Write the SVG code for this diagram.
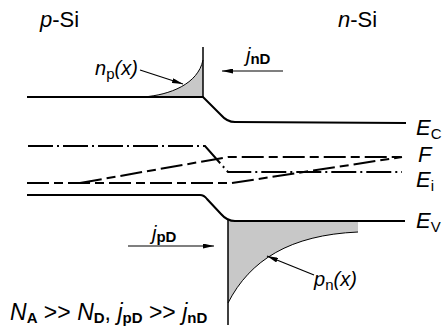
<svg xmlns="http://www.w3.org/2000/svg" width="442" height="336" viewBox="0 0 442 336">
<defs>
<marker id="ah" viewBox="0 0 11 5" refX="11" refY="2.5" markerWidth="11" markerHeight="5" markerUnits="userSpaceOnUse" orient="auto">
<path d="M0,0 L11,2.5 L0,5 Z" fill="#000"/>
</marker>
</defs>
<style>
.band{fill:none;stroke:#000;stroke-width:2}
.ei{fill:none;stroke:#000;stroke-width:2;stroke-dasharray:25 4 2 4}
.fl{fill:none;stroke:#000;stroke-width:2;stroke-dasharray:22 5 9 5}
.fill{fill:#c8c8c8;stroke:none}
.crv{fill:none;stroke:#000;stroke-width:1}
.vl{fill:none;stroke:#000;stroke-width:1.5}
.arr{fill:none;stroke:#000;stroke-width:1.2;marker-end:url(#ah)}
text{font-family:"Liberation Sans",Arial,sans-serif;fill:#000}
.t{font-size:20px}
.big{font-size:22px}
.bt{font-size:23px}
.it{font-style:italic}
.sub{font-size:15px;font-weight:bold;font-style:normal}
.sub2{font-size:15px;font-style:normal}
</style>
<g id="shading">
<path class="fill" d="M143,97 C170,95 198,84 203,60 L203,97 Z"/>
<path class="fill" d="M228,221 L358,221 L358,232 C290,235 250,260 228,303 Z"/>
</g>
<g id="np-curve">
<path class="crv" d="M143,97 C170,95 198,84 203,60"/>
<path class="vl" d="M203,47 L203,97"/>
</g>
<g id="pn-curve">
<path class="crv" d="M358,232 C290,235 250,260 228,303"/>
<path class="vl" d="M228,219 L228,325"/>
</g>
<g id="Ec">
<path class="band" d="M27,97 L203,97 L221,115 Q227,122 235,122 L406,123"/>
</g>
<g id="Ev">
<path class="band" d="M27,195 L200,195 Q204,195 207,199 L221,214 Q227,221 235,221 L405,221"/>
</g>
<g id="Ei">
<path class="ei" d="M28,146 L205,146 L228,172 L402,172"/>
</g>
<g id="Fp">
<path class="fl" d="M27,183 L232,183 L402,157"/>
</g>
<g id="Fn">
<path class="fl" d="M80,183 L228,157 L402,157"/>
</g>
<g id="connectors">
<path class="arr" d="M140,70 L183,84"/>
<path class="arr" d="M283,71 L222,71"/>
<path class="arr" d="M128,246 L214,246"/>
<path class="arr" d="M314,275 L267,256"/>
</g>
<g id="labels">
<text class="big" x="40" y="27"><tspan class="it">p</tspan>-Si</text>
<text class="big" x="338" y="27"><tspan class="it">n</tspan>-Si</text>
<text class="t it" x="95" y="75">n<tspan class="sub2" dy="4">p</tspan><tspan dy="-4">(</tspan>x)</text>
<text class="t it" x="246" y="62">j<tspan class="sub" dy="2">nD</tspan></text>
<text class="t it" x="152" y="240">j<tspan class="sub" dy="2">pD</tspan></text>
<text class="t it" x="314" y="286">p<tspan class="sub2" dy="4">n</tspan><tspan dy="-4">(</tspan>x)</text>
<text class="big it" x="416" y="135">E<tspan class="sub2" dy="4">C</tspan></text>
<text class="big it" x="418" y="162">F</text>
<text class="big it" x="416" y="187">E<tspan class="sub2" dy="4">i</tspan></text>
<text class="big it" x="416" y="228">E<tspan class="sub2" dy="4">V</tspan></text>
<text class="bt" x="10" y="320"><tspan class="it">N</tspan><tspan class="sub" dy="3">A</tspan><tspan dy="-3"> &gt;&gt; </tspan><tspan class="it">N</tspan><tspan class="sub" dy="3">D</tspan><tspan dy="-3">, </tspan><tspan class="it">j</tspan><tspan class="sub" dy="3">pD</tspan><tspan dy="-3"> &gt;&gt; </tspan><tspan class="it">j</tspan><tspan class="sub" dy="3">nD</tspan></text>
</g>
</svg>
